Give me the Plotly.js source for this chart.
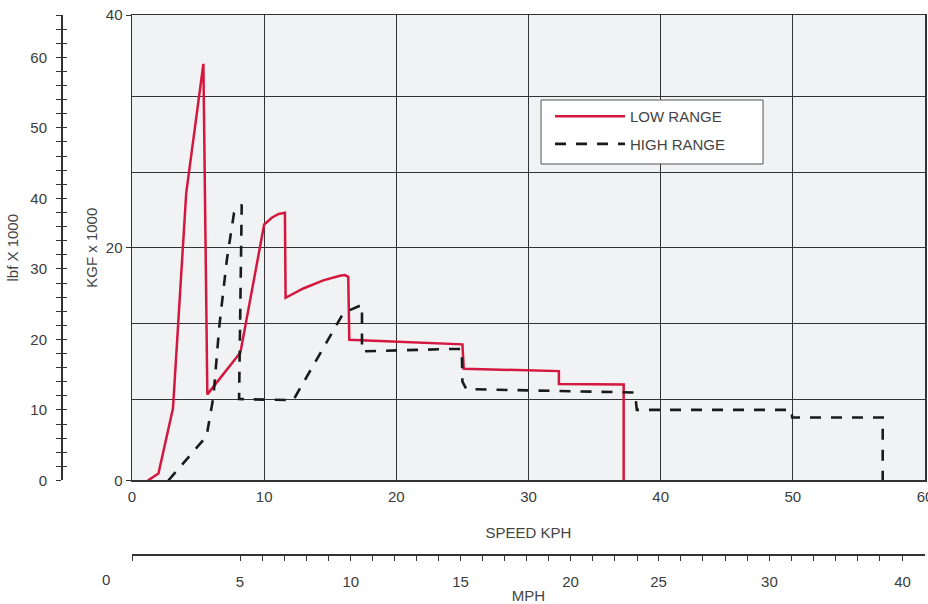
<!DOCTYPE html>
<html>
<head>
<meta charset="utf-8">
<script src="https://cdn.plot.ly/plotly-3.0.1.min.js"></script>
<style>html,body{margin:0;padding:0;background:#fff;}#chart{width:928px;height:604px;}</style>
</head>
<body>
<div id="chart"></div>
<script>
// LOW RANGE curve (speed in KPH, tractive effort in KGF x 1000)
const lowKph = [1.2, 2.0, 3.1, 4.1, 5.4, 5.7, 8.2, 10.0, 10.6, 11.1, 11.57, 11.62, 12.96, 14.47, 15.73, 16.1, 16.36, 16.44, 25.0, 25.1, 32.3, 32.3, 37.2, 37.2];
const lowKgf = [0, 0.6, 6.2, 24.7, 35.8, 7.4, 11.0, 22.0, 22.6, 22.9, 23.0, 15.7, 16.5, 17.2, 17.6, 17.65, 17.5, 12.1, 11.7, 9.6, 9.4, 8.3, 8.25, 0];

// HIGH RANGE curve
const highKph = [2.75, 5.64, 6.16, 6.6, 7.18, 7.72, 8.3, 8.1, 12.2, 16.0, 17.4, 17.4, 24.1, 24.95, 25.0, 25.3, 38.05, 38.2, 49.9, 49.95, 56.8, 56.8];
const highKgf = [0, 3.8, 7.2, 13.2, 19.0, 23.0, 23.7, 7.0, 6.9, 14.4, 15.1, 11.1, 11.3, 11.3, 8.5, 7.85, 7.56, 6.07, 6.07, 5.41, 5.41, 0];

// Axis tick values
const kphTicks = [0, 10, 20, 30, 40, 50, 60];
const kgfTicks = [0, 20, 40];
const kgfGrid = [7, 13.5, 26.5, 33];
const lbfTicks = [0, 10, 20, 30, 40, 50, 60];
const mphLabels = ['5', '10', '15', '20', '25', '30', '40'];
const mphLabelKph = [8.17, 16.55, 24.86, 33.18, 39.84, 48.23, 58.30];
const mphMinorKph = [0, 8.17, 9.84, 11.50, 13.20, 14.87, 16.55, 18.20, 19.87, 21.55, 23.18, 24.86, 26.50, 28.18, 29.86, 31.50, 33.18, 34.85, 36.53, 38.21, 39.84, 41.52, 43.20, 44.88, 46.55, 48.23, 49.91, 51.55, 53.23, 54.91, 56.59, 58.30];

const RED = '#d4173f';
const INK = '#333333';
const TXT = '#3c3c3c';

const traces = [
  {x: lowKph, y: lowKgf, type: 'scatter', mode: 'lines', name: 'LOW RANGE', legendgroup: 'a',
   line: {color: RED, width: 2.5}, xaxis: 'x', yaxis: 'y', hoverinfo: 'skip'},
  {x: highKph, y: highKgf, type: 'scatter', mode: 'lines', name: 'HIGH RANGE', legendgroup: 'b',
   line: {color: '#1a1a1a', width: 2.6, dash: '11px,10px'}, xaxis: 'x', yaxis: 'y', hoverinfo: 'skip'},
  // carriers so the secondary (MPH and lbf) scales are drawn; fully transparent
  {x: lowKph, y: lowKgf, type: 'scatter', mode: 'lines', xaxis: 'x2', yaxis: 'y', opacity: 0, showlegend: false, hoverinfo: 'skip'},
  {x: lowKph, y: lowKgf, type: 'scatter', mode: 'lines', xaxis: 'x', yaxis: 'y3', opacity: 0, showlegend: false, hoverinfo: 'skip'},
  {x: lowKph, y: lowKgf, type: 'scatter', mode: 'lines', xaxis: 'x', yaxis: 'y4', opacity: 0, showlegend: false, hoverinfo: 'skip'}
];

const layout = {
  width: 928, height: 604,
  margin: {l: 61, r: 3, t: 15, b: 40},
  paper_bgcolor: '#ffffff',
  plot_bgcolor: '#f1f2f4',
  font: {family: '"Liberation Sans", Arial, sans-serif', size: 15, color: TXT},
  showlegend: true,
  legend: {
    x: 0.566, y: 0.845, xanchor: 'left', yanchor: 'top',
    bgcolor: 'rgba(0,0,0,0)', borderwidth: 0,
    itemwidth: 70, traceorder: 'grouped', tracegroupgap: 5,
    font: {size: 15, color: '#444'}
  },
  shapes: [
    {type: 'rect', xref: 'paper', yref: 'paper', x0: 0.5556, x1: 0.8125, y0: 0.7286, y1: 0.8452,
     fillcolor: '#ffffff', line: {color: '#555555', width: 1}, layer: 'above'}
  ],
  xaxis: {
    domain: [0.0822, 1], range: [0, 60], anchor: 'y',
    tickvals: kphTicks, ticks: '', ticklabelstandoff: 2, ticklabeloverflow: 'allow',
    showgrid: true, gridcolor: INK, gridwidth: 1,
    showline: true, linecolor: INK, linewidth: 1.5, mirror: true, zeroline: false,
    title: {text: 'SPEED KPH', standoff: 23, font: {size: 15, color: '#444'}}
  },
  yaxis: {
    domain: [0.1521, 1], range: [0, 40], anchor: 'x',
    tickvals: kgfTicks, ticks: 'outside', ticklen: 5, tickcolor: INK,
    showgrid: true, gridcolor: INK, gridwidth: 1,
    minor: {tickvals: kgfGrid, showgrid: true, gridcolor: INK, gridwidth: 1, ticks: ''},
    showline: true, linecolor: INK, linewidth: 1.5, mirror: true, zeroline: false,
    title: {text: 'KGF x 1000', standoff: 4, font: {size: 15, color: '#444'}}
  },
  xaxis2: {
    overlaying: 'x', anchor: 'free', position: 0.0177, range: [0, 60], side: 'bottom',
    tickvals: mphLabelKph, ticktext: mphLabels, ticks: 'outside', ticklen: 5, tickcolor: INK,
    minor: {tickvals: mphMinorKph, ticks: 'outside', ticklen: 5, tickcolor: INK, showgrid: false},
    showgrid: false, zeroline: false, showline: true, linecolor: INK, linewidth: 1.5,
    ticklabelstandoff: 8, ticklabeloverflow: 'allow',
    title: {text: 'MPH', standoff: 2, font: {size: 15, color: '#444'}}
  },
  yaxis3: {
    overlaying: 'y', anchor: 'free', position: 0, side: 'left', range: [0, 66],
    tickvals: lbfTicks, ticks: 'outside', ticklen: 5, tickcolor: INK,
    minor: {dtick: 2, tick0: 0, ticks: 'outside', ticklen: 5, tickcolor: INK, showgrid: false},
    showgrid: false, zeroline: false, showline: true, linecolor: INK, linewidth: 1.5,
    ticklabelstandoff: 6,
    title: {text: 'lbf X 1000', standoff: 6, font: {size: 15, color: '#444'}}
  },
  yaxis4: {
    overlaying: 'y', anchor: 'free', position: 0, side: 'left', range: [0, 66],
    tickvals: lbfTicks, ticks: 'inside', ticklen: 5, tickcolor: INK, showticklabels: false,
    minor: {dtick: 2, tick0: 0, ticks: 'inside', ticklen: 5, tickcolor: INK, showgrid: false},
    showgrid: false, zeroline: false, showline: false
  },
  annotations: [
    {text: '0', xref: 'paper', yref: 'paper', x: 0.0521, y: -0.0284, showarrow: false,
     xanchor: 'center', yanchor: 'middle', font: {size: 15, color: TXT}}
  ]
};

Plotly.newPlot('chart', traces, layout, {staticPlot: true, displayModeBar: false});
</script>
</body>
</html>
